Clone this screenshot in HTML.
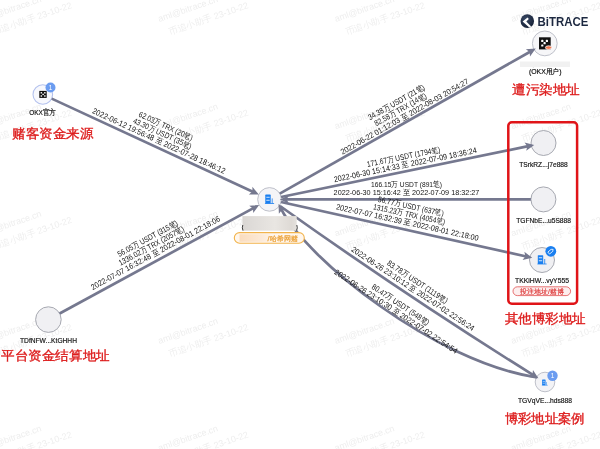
<!DOCTYPE html>
<html><head><meta charset="utf-8"><style>
html,body{margin:0;padding:0;background:#fff;width:600px;height:449px;overflow:hidden}
svg{display:block;font-family:"Liberation Sans",sans-serif;will-change:transform}
</style></head><body>
<svg width="600" height="449" viewBox="0 0 600 449"><g transform="translate(72.5,7.8) rotate(-19)" font-size="9" fill="#eeeeee" text-anchor="end"><text x="-26.8" y="-15.8">aml@bitrace.cn</text><text x="0" y="0">币追小助手 23-10-22</text></g><g transform="translate(249.0,7.8) rotate(-19)" font-size="9" fill="#eeeeee" text-anchor="end"><text x="-26.8" y="-15.8">aml@bitrace.cn</text><text x="0" y="0">币追小助手 23-10-22</text></g><g transform="translate(425.5,7.8) rotate(-19)" font-size="9" fill="#eeeeee" text-anchor="end"><text x="-26.8" y="-15.8">aml@bitrace.cn</text><text x="0" y="0">币追小助手 23-10-22</text></g><g transform="translate(602.0,7.8) rotate(-19)" font-size="9" fill="#eeeeee" text-anchor="end"><text x="-26.8" y="-15.8">aml@bitrace.cn</text><text x="0" y="0">币追小助手 23-10-22</text></g><g transform="translate(778.5,7.8) rotate(-19)" font-size="9" fill="#eeeeee" text-anchor="end"><text x="-26.8" y="-15.8">aml@bitrace.cn</text><text x="0" y="0">币追小助手 23-10-22</text></g><g transform="translate(72.5,115.1) rotate(-19)" font-size="9" fill="#eeeeee" text-anchor="end"><text x="-26.8" y="-15.8">aml@bitrace.cn</text><text x="0" y="0">币追小助手 23-10-22</text></g><g transform="translate(249.0,115.1) rotate(-19)" font-size="9" fill="#eeeeee" text-anchor="end"><text x="-26.8" y="-15.8">aml@bitrace.cn</text><text x="0" y="0">币追小助手 23-10-22</text></g><g transform="translate(425.5,115.1) rotate(-19)" font-size="9" fill="#eeeeee" text-anchor="end"><text x="-26.8" y="-15.8">aml@bitrace.cn</text><text x="0" y="0">币追小助手 23-10-22</text></g><g transform="translate(602.0,115.1) rotate(-19)" font-size="9" fill="#eeeeee" text-anchor="end"><text x="-26.8" y="-15.8">aml@bitrace.cn</text><text x="0" y="0">币追小助手 23-10-22</text></g><g transform="translate(778.5,115.1) rotate(-19)" font-size="9" fill="#eeeeee" text-anchor="end"><text x="-26.8" y="-15.8">aml@bitrace.cn</text><text x="0" y="0">币追小助手 23-10-22</text></g><g transform="translate(72.5,222.4) rotate(-19)" font-size="9" fill="#eeeeee" text-anchor="end"><text x="-26.8" y="-15.8">aml@bitrace.cn</text><text x="0" y="0">币追小助手 23-10-22</text></g><g transform="translate(249.0,222.4) rotate(-19)" font-size="9" fill="#eeeeee" text-anchor="end"><text x="-26.8" y="-15.8">aml@bitrace.cn</text><text x="0" y="0">币追小助手 23-10-22</text></g><g transform="translate(425.5,222.4) rotate(-19)" font-size="9" fill="#eeeeee" text-anchor="end"><text x="-26.8" y="-15.8">aml@bitrace.cn</text><text x="0" y="0">币追小助手 23-10-22</text></g><g transform="translate(602.0,222.4) rotate(-19)" font-size="9" fill="#eeeeee" text-anchor="end"><text x="-26.8" y="-15.8">aml@bitrace.cn</text><text x="0" y="0">币追小助手 23-10-22</text></g><g transform="translate(778.5,222.4) rotate(-19)" font-size="9" fill="#eeeeee" text-anchor="end"><text x="-26.8" y="-15.8">aml@bitrace.cn</text><text x="0" y="0">币追小助手 23-10-22</text></g><g transform="translate(72.5,329.7) rotate(-19)" font-size="9" fill="#eeeeee" text-anchor="end"><text x="-26.8" y="-15.8">aml@bitrace.cn</text><text x="0" y="0">币追小助手 23-10-22</text></g><g transform="translate(249.0,329.7) rotate(-19)" font-size="9" fill="#eeeeee" text-anchor="end"><text x="-26.8" y="-15.8">aml@bitrace.cn</text><text x="0" y="0">币追小助手 23-10-22</text></g><g transform="translate(425.5,329.7) rotate(-19)" font-size="9" fill="#eeeeee" text-anchor="end"><text x="-26.8" y="-15.8">aml@bitrace.cn</text><text x="0" y="0">币追小助手 23-10-22</text></g><g transform="translate(602.0,329.7) rotate(-19)" font-size="9" fill="#eeeeee" text-anchor="end"><text x="-26.8" y="-15.8">aml@bitrace.cn</text><text x="0" y="0">币追小助手 23-10-22</text></g><g transform="translate(778.5,329.7) rotate(-19)" font-size="9" fill="#eeeeee" text-anchor="end"><text x="-26.8" y="-15.8">aml@bitrace.cn</text><text x="0" y="0">币追小助手 23-10-22</text></g><g transform="translate(72.5,437.0) rotate(-19)" font-size="9" fill="#eeeeee" text-anchor="end"><text x="-26.8" y="-15.8">aml@bitrace.cn</text><text x="0" y="0">币追小助手 23-10-22</text></g><g transform="translate(249.0,437.0) rotate(-19)" font-size="9" fill="#eeeeee" text-anchor="end"><text x="-26.8" y="-15.8">aml@bitrace.cn</text><text x="0" y="0">币追小助手 23-10-22</text></g><g transform="translate(425.5,437.0) rotate(-19)" font-size="9" fill="#eeeeee" text-anchor="end"><text x="-26.8" y="-15.8">aml@bitrace.cn</text><text x="0" y="0">币追小助手 23-10-22</text></g><g transform="translate(602.0,437.0) rotate(-19)" font-size="9" fill="#eeeeee" text-anchor="end"><text x="-26.8" y="-15.8">aml@bitrace.cn</text><text x="0" y="0">币追小助手 23-10-22</text></g><g transform="translate(778.5,437.0) rotate(-19)" font-size="9" fill="#eeeeee" text-anchor="end"><text x="-26.8" y="-15.8">aml@bitrace.cn</text><text x="0" y="0">币追小助手 23-10-22</text></g><circle cx="42.8" cy="94.5" r="9.8" fill="#f7f8fd" stroke="#b4c2ee" stroke-width="1.1"/><circle cx="269.5" cy="199.4" r="11.8" fill="#f4f4f7" stroke="#b8bac4" stroke-width="0.9"/><circle cx="544.8" cy="43.4" r="12.4" fill="#f6f6f8" stroke="#b8bac4" stroke-width="0.9"/><circle cx="543.5" cy="143" r="12.5" fill="#f0f0f3" stroke="#9d9fa8" stroke-width="0.9"/><circle cx="543.4" cy="199.4" r="12.5" fill="#f0f0f3" stroke="#9d9fa8" stroke-width="0.9"/><circle cx="542" cy="260" r="12.5" fill="#f0f0f3" stroke="#9d9fa8" stroke-width="0.9"/><circle cx="545" cy="382" r="9.8" fill="#f3f3f6" stroke="#b8bac4" stroke-width="0.9"/><circle cx="48.4" cy="319.6" r="12.8" fill="#f0f0f3" stroke="#9d9fa8" stroke-width="0.9"/><line x1="51.69" y1="98.62" x2="253.35" y2="191.92" stroke="#75788f" stroke-width="2.7"/><path d="M258.79,194.44 L248.86,194.48 L252.44,191.51 L252.39,186.85 Z" fill="#75788f"/><line x1="279.77" y1="193.58" x2="530.53" y2="51.49" stroke="#75788f" stroke-width="2.7"/><path d="M535.75,48.53 L529.99,56.62 L529.66,51.98 L525.85,49.31 Z" fill="#75788f"/><line x1="281.06" y1="197.02" x2="528.32" y2="146.12" stroke="#75788f" stroke-width="2.7"/><path d="M534.20,144.92 L526.23,150.84 L527.34,146.33 L524.53,142.62 Z" fill="#75788f"/><line x1="530.90" y1="199.40" x2="285.80" y2="199.40" stroke="#75788f" stroke-width="2.7"/><path d="M279.80,199.40 L288.80,195.20 L286.80,199.40 L288.80,203.60 Z" fill="#75788f"/><line x1="281.02" y1="201.96" x2="526.38" y2="256.53" stroke="#75788f" stroke-width="2.7"/><path d="M532.24,257.83 L522.54,259.98 L525.41,256.31 L524.36,251.78 Z" fill="#75788f"/><line x1="59.65" y1="313.49" x2="253.86" y2="207.90" stroke="#75788f" stroke-width="2.7"/><path d="M259.13,205.04 L253.23,213.02 L252.98,208.38 L249.22,205.64 Z" fill="#75788f"/><path d="M280.00,206.00 Q405.00,295.00 533.31,375.12" fill="none" stroke="#75788f" stroke-width="2.7"/><path d="M538.40,378.30 L528.54,377.10 L532.46,374.59 L532.99,369.97 Z" fill="#75788f"/><path d="M281.24,209.24 C306.70,258.80 434.00,361.60 537.00,377.50" fill="none" stroke="#75788f" stroke-width="2.7"/><path d="M278.50,203.90 L286.35,209.99 L281.70,210.13 L278.88,213.82 Z" fill="#75788f"/><g transform="translate(157.79,143.41) rotate(24.83)" font-size="8.0" fill="#141414" text-anchor="middle"><text x="0" y="-16.4" textLength="58.7" lengthAdjust="spacingAndGlyphs">62.03万 TRX (20笔)</text><text x="0" y="-8.2" textLength="63.5" lengthAdjust="spacingAndGlyphs">43.30万 USDT (35笔)</text><text x="0" y="0.0" textLength="145.7" lengthAdjust="spacingAndGlyphs">2022-06-12 19:56:48 至 2022-07-28 18:46:12</text></g><g transform="translate(405.77,118.96) rotate(-29.54)" font-size="8.0" fill="#141414" text-anchor="middle"><text x="0" y="-16.4" textLength="63.5" lengthAdjust="spacingAndGlyphs">34.38万 USDT (21笔)</text><text x="0" y="-8.2" textLength="58.7" lengthAdjust="spacingAndGlyphs">82.58万 TRX (14笔)</text><text x="0" y="0.0" textLength="145.7" lengthAdjust="spacingAndGlyphs">2022-06-22 01:12:03 至 2022-08-03 20:54:27</text></g><g transform="translate(405.73,167.48) rotate(-11.63)" font-size="8.0" fill="#141414" text-anchor="middle"><text x="0" y="-8.2" textLength="74.5" lengthAdjust="spacingAndGlyphs">171.67万 USDT (1794笔)</text><text x="0" y="0.0" textLength="145.7" lengthAdjust="spacingAndGlyphs">2022-06-30 15:14:33 至 2022-07-09 18:36:24</text></g><g transform="translate(406.45,194.7) rotate(0.0)" font-size="8.0" fill="#141414" text-anchor="middle"><text x="0" y="-8.2" textLength="70.9" lengthAdjust="spacingAndGlyphs">166.15万 USDT (891笔)</text><text x="0" y="0.0" textLength="145.7" lengthAdjust="spacingAndGlyphs">2022-06-30 15:16:42 至 2022-07-09 18:32:27</text></g><g transform="translate(406.77,225.11) rotate(12.54)" font-size="8.0" fill="#141414" text-anchor="middle"><text x="0" y="-16.4" textLength="67.2" lengthAdjust="spacingAndGlyphs">56.77万 USDT (637笔)</text><text x="0" y="-8.2" textLength="73.4" lengthAdjust="spacingAndGlyphs">1315.23万 TRX (4054笔)</text><text x="0" y="0.0" textLength="145.7" lengthAdjust="spacingAndGlyphs">2022-07-07 16:32:39 至 2022-08-01 22:18:00</text></g><g transform="translate(156.71,255.37) rotate(-28.53)" font-size="8.0" fill="#141414" text-anchor="middle"><text x="0" y="-16.4" textLength="67.2" lengthAdjust="spacingAndGlyphs">56.05万 USDT (315笔)</text><text x="0" y="-8.2" textLength="73.4" lengthAdjust="spacingAndGlyphs">1336.02万 TRX (2057笔)</text><text x="0" y="0.0" textLength="145.7" lengthAdjust="spacingAndGlyphs">2022-07-07 16:32:48 至 2022-08-01 22:18:06</text></g><g transform="translate(411.48,291.03) rotate(33.54)" font-size="8.0" fill="#141414" text-anchor="middle"><text x="0" y="-8.2" textLength="70.9" lengthAdjust="spacingAndGlyphs">83.78万 USDT (1119笔)</text><text x="0" y="0.0" textLength="145.7" lengthAdjust="spacingAndGlyphs">2022-06-26 23:10:12 至 2022-07-02 22:56:24</text></g><g transform="translate(394.53,313.67) rotate(33.54)" font-size="8.0" fill="#141414" text-anchor="middle"><text x="0" y="-8.2" textLength="67.2" lengthAdjust="spacingAndGlyphs">80.47万 USDT (548笔)</text><text x="0" y="0.0" textLength="145.7" lengthAdjust="spacingAndGlyphs">2022-06-26 23:10:30 至 2022-07-02 22:54:54</text></g><g transform="translate(269.5,199.4) scale(1.0)"><rect x="-4.2" y="-4.8" width="5.4" height="8.8" rx="0.6" fill="#1a7ff0"/><rect x="-3.2" y="-2.6" width="3.4" height="0.8" fill="#fff"/><rect x="-3.2" y="0.4" width="3.4" height="0.8" fill="#fff"/><rect x="2.2" y="-1" width="1" height="5" fill="#1a7ff0" opacity="0.8"/><rect x="-4.6" y="3.6" width="9.2" height="0.8" fill="#1a7ff0"/></g><g transform="translate(542,260) scale(1.0)"><rect x="-4.2" y="-4.8" width="5.4" height="8.8" rx="0.6" fill="#1a7ff0"/><rect x="-3.2" y="-2.6" width="3.4" height="0.8" fill="#fff"/><rect x="-3.2" y="0.4" width="3.4" height="0.8" fill="#fff"/><rect x="2.2" y="-1" width="1" height="5" fill="#1a7ff0" opacity="0.8"/><rect x="-4.6" y="3.6" width="9.2" height="0.8" fill="#1a7ff0"/></g><g transform="translate(544.8,382.6) scale(0.64)"><rect x="-4.2" y="-4.8" width="5.4" height="8.8" rx="0.6" fill="#1a7ff0"/><rect x="-3.2" y="-2.6" width="3.4" height="0.8" fill="#fff"/><rect x="-3.2" y="0.4" width="3.4" height="0.8" fill="#fff"/><rect x="2.2" y="-1" width="1" height="5" fill="#1a7ff0" opacity="0.8"/><rect x="-4.6" y="3.6" width="9.2" height="0.8" fill="#1a7ff0"/></g><rect x="39.3" y="90.9" width="7.4" height="7" fill="#0d0d0d"/><g fill="#fff"><rect x="40.6" y="92.1" width="1.5" height="1.4"/><rect x="44.1" y="92.1" width="1.5" height="1.4"/><rect x="42.35" y="93.7" width="1.5" height="1.4"/><rect x="40.6" y="95.3" width="1.5" height="1.4"/><rect x="44.1" y="95.3" width="1.5" height="1.4"/></g><rect x="539" y="37.3" width="11.7" height="12.1" fill="#111"/><g fill="#fff"><rect x="541.2" y="39.8" width="2.2" height="2.2" rx="0.6"/><rect x="545.8" y="39.8" width="2.2" height="2.2" rx="0.6"/><rect x="543.5" y="42.1" width="2.2" height="2.2" rx="0.6"/><rect x="541.2" y="44.4" width="2.2" height="2.2" rx="0.6"/></g><ellipse cx="548.6" cy="47.6" rx="3.2" ry="1.8" fill="#f07850" stroke="#fff" stroke-width="0.8"/><circle cx="50.5" cy="87.5" r="5" fill="#6b9cf0"/><text x="50.5" y="89.8" font-size="6.5" fill="#fff" text-anchor="middle">1</text><circle cx="552.5" cy="375.8" r="5.2" fill="#6b9cf0"/><text x="552.5" y="378.1" font-size="6.5" fill="#fff" text-anchor="middle">1</text><circle cx="550.8" cy="251.3" r="5.4" fill="#1a7ff0"/><g transform="translate(550.9,251.2) rotate(-40)"><path d="M-2.9,-1.3 H1.3 L2.9,0 L1.3,1.3 H-2.9 Z" fill="none" stroke="#fff" stroke-width="0.75" stroke-linejoin="round"/></g><text x="42.7" y="115" font-size="7.6" fill="#111" stroke="#111" stroke-width="0.18" text-anchor="middle" textLength="27" lengthAdjust="spacingAndGlyphs">OKX官方</text><text x="543.5" y="166.5" font-size="7.6" fill="#111" stroke="#111" stroke-width="0.18" text-anchor="middle" textLength="48.5" lengthAdjust="spacingAndGlyphs">TSrkRZ...j7e888</text><text x="543.6" y="222.8" font-size="7.6" fill="#111" stroke="#111" stroke-width="0.18" text-anchor="middle" textLength="54.7" lengthAdjust="spacingAndGlyphs">TGFNbE...u5S888</text><text x="542" y="283.2" font-size="7.6" fill="#111" stroke="#111" stroke-width="0.18" text-anchor="middle" textLength="54" lengthAdjust="spacingAndGlyphs">TKKiHW...vyY555</text><text x="545" y="402.8" font-size="7.6" fill="#111" stroke="#111" stroke-width="0.18" text-anchor="middle" textLength="54" lengthAdjust="spacingAndGlyphs">TGVqVE...hds888</text><text x="48.5" y="342.5" font-size="7.6" fill="#111" stroke="#111" stroke-width="0.18" text-anchor="middle" textLength="57" lengthAdjust="spacingAndGlyphs">TDfNFW...KtGHHH</text><text x="545.2" y="74.4" font-size="7.2" fill="#111" stroke="#111" stroke-width="0.18" text-anchor="middle" textLength="32.5" lengthAdjust="spacingAndGlyphs">(OKX用户)</text><path d="M533.6,67.2 l0.8,-1.3" stroke="#333" stroke-width="0.7"/><rect x="520" y="61.5" width="50" height="5.5" fill="#f1f1f1"/><rect x="513" y="286.8" width="57.6" height="8.8" rx="4.4" fill="#fdeeee" stroke="#e05050" stroke-width="0.8"/><text x="541.9" y="293.9" font-size="6.6" fill="#dc3434" stroke="#dc3434" stroke-width="0.15" text-anchor="middle" textLength="43.5" lengthAdjust="spacingAndGlyphs">投注地址/赌博</text><defs><linearGradient id="gg" x1="0" x2="1"><stop offset="0" stop-color="#d9d6d3"/><stop offset="0.15" stop-color="#dedbd8"/><stop offset="0.6" stop-color="#e9e6e2"/><stop offset="0.9" stop-color="#dedad5"/><stop offset="1" stop-color="#e4e1dd"/></linearGradient><linearGradient id="og" x1="0" x2="1"><stop offset="0" stop-color="#fadcbd"/><stop offset="0.7" stop-color="#fce9d6"/><stop offset="1" stop-color="#fdf1e4"/></linearGradient><filter id="bl" x="-20%" y="-30%" width="140%" height="160%"><feGaussianBlur stdDeviation="0.6"/></filter><filter id="bl2" x="-20%" y="-50%" width="140%" height="200%"><feGaussianBlur stdDeviation="1"/></filter></defs><rect x="242.4" y="216.1" width="54.3" height="14.6" fill="url(#gg)" filter="url(#bl)"/><path d="M242.8,225 q-1.1,2.8 0.2,5.6 M296.8,225 q1.1,2.8 -0.2,5.6" stroke="#2a2a2a" stroke-width="0.9" fill="none"/><rect x="234.3" y="232.6" width="70" height="10.6" rx="5.3" fill="#fff6ec" stroke="#f2b44c" stroke-width="1.1"/><rect x="239.5" y="234.2" width="31" height="7.6" fill="url(#og)" filter="url(#bl)"/><text x="297.6" y="240.9" font-size="7.4" fill="#eca33a" stroke="#eca33a" stroke-width="0.25" text-anchor="end">/哈希网赌</text><rect x="508.3" y="122.3" width="68.8" height="181.4" rx="3.5" fill="none" stroke="#e01418" stroke-width="2.5"/><text x="12.2" y="138" font-size="13" fill="#dd1c1c" stroke="#dd1c1c" stroke-width="0.35" textLength="81" lengthAdjust="spacingAndGlyphs">赌客资金来源</text><text x="512" y="93.5" font-size="13" fill="#dd1c1c" stroke="#dd1c1c" stroke-width="0.35" textLength="68" lengthAdjust="spacingAndGlyphs">遭污染地址</text><text x="1.3" y="359.8" font-size="13" fill="#dd1c1c" stroke="#dd1c1c" stroke-width="0.35" textLength="108.3" lengthAdjust="spacingAndGlyphs">平台资金结算地址</text><text x="504.6" y="423.2" font-size="13" fill="#dd1c1c" stroke="#dd1c1c" stroke-width="0.35" textLength="80.2" lengthAdjust="spacingAndGlyphs">博彩地址案例</text><text x="504.9" y="323.4" font-size="13" fill="#dd1c1c" stroke="#dd1c1c" stroke-width="0.35" textLength="81" lengthAdjust="spacingAndGlyphs">其他博彩地址</text><defs><radialGradient id="glb" cx="0.4" cy="0.35" r="0.7"><stop offset="0" stop-color="#3a4a66"/><stop offset="1" stop-color="#141e33"/></radialGradient></defs><circle cx="527.3" cy="21.1" r="6.8" fill="url(#glb)"/><path d="M522.6,21.6 L527.6,17.6 L528.8,18.9 L526.3,21.4 L531.2,26.4 L529.3,27.6 Z" fill="#fff"/><text x="537.6" y="25.6" font-size="12.4" font-weight="bold" fill="#1c2840" textLength="50.8" lengthAdjust="spacingAndGlyphs">BiTRACE</text></svg>
</body></html>
